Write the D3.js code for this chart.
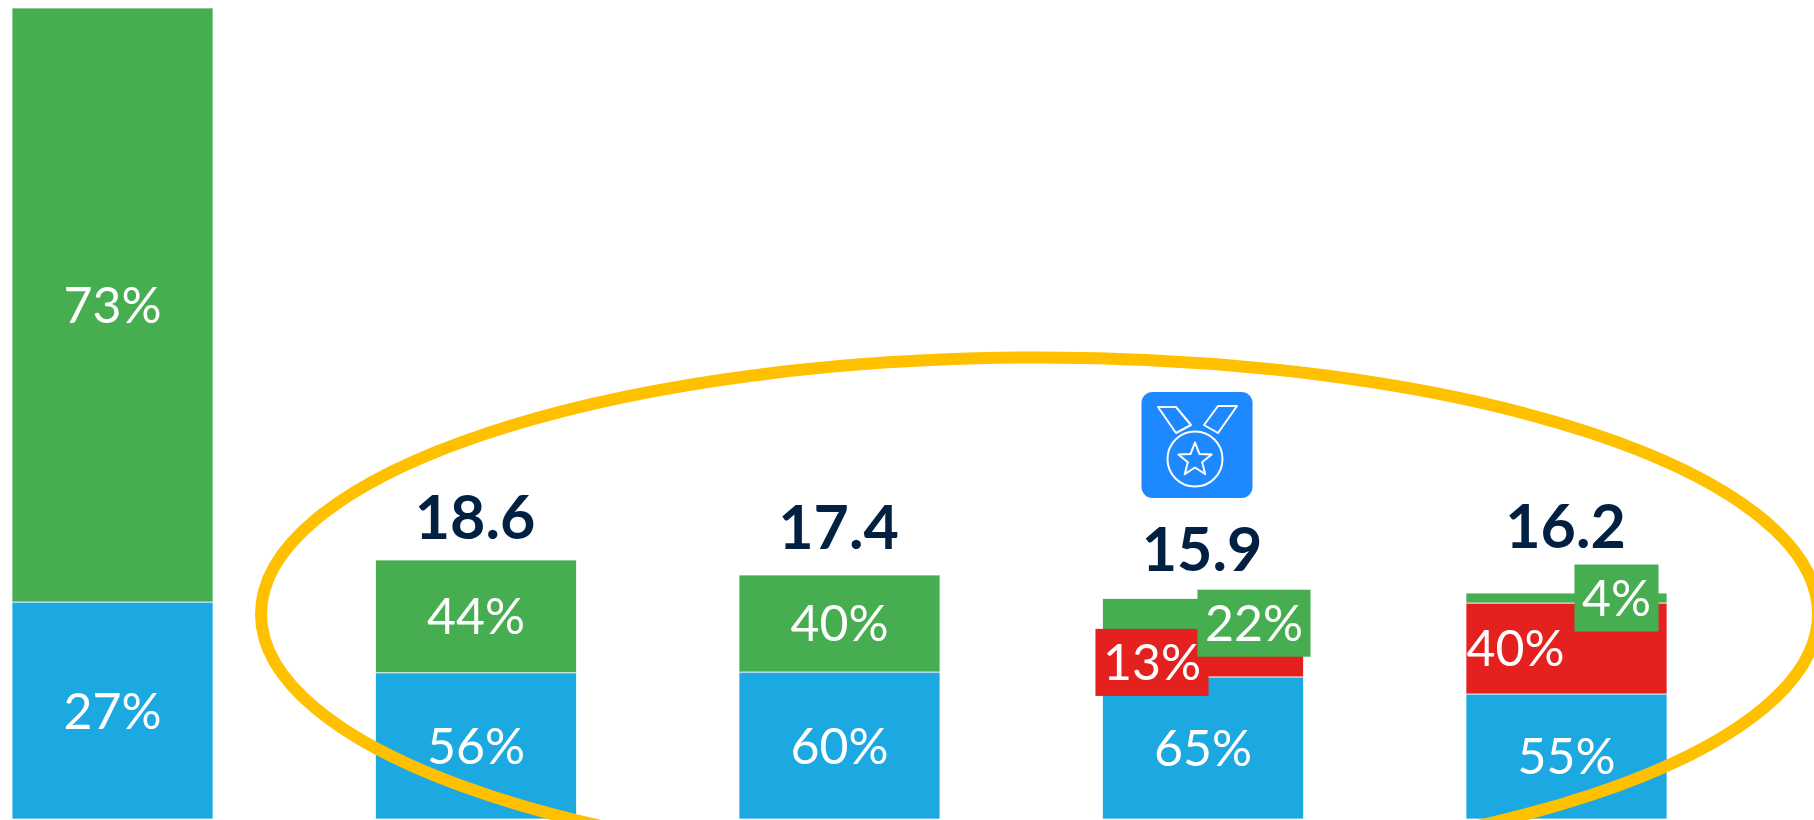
<!DOCTYPE html>
<html>
<head>
<meta charset="utf-8">
<script src="https://cdn.jsdelivr.net/npm/d3@7"></script>
<style>
  html, body { margin: 0; padding: 0; background: #fff; overflow: hidden; }
  svg { display: block; font-family: Lato, "Open Sans", sans-serif; }
</style>
</head>
<body>
<div id="chart"></div>
<script>
// Values (segment heights, share labels, bar totals)
const categories = ["Bar 1", "Bar 2", "Bar 3", "Bar 4", "Bar 5"];
const blueValues = [15.5, 10.45, 10.5, 10.15, 8.93];
const redValues = [0, 0, 0, 2.07, 6.5];
const greenValues = [42.43, 8.05, 6.93, 3.53, 0.71];
const blueLabels = ["27%", "56%", "60%", "65%", "55%"];
const redLabels = ["", "", "", "13%", "40%"];
const greenLabels = ["73%", "44%", "40%", "22%", "4%"];
const totalLabels = ["", "18.6", "17.4", "15.9", "16.2"];

const seriesKeys = ["blue", "red", "green"];
const colors = { blue: "#1CA9E2", red: "#E4211F", green: "#47AD51" };
const labels = { blue: blueLabels, red: redLabels, green: greenLabels };

const width = 1814;
const height = 820;
const navy = "#012042";

const rows = categories.map((c, i) => ({
  category: c,
  blue: blueValues[i],
  red: redValues[i],
  green: greenValues[i]
}));

const svg = d3.select("#chart")
  .append("svg")
  .attr("width", width)
  .attr("height", height);

// Scales
const x = d3.scaleBand()
  .domain(categories)
  .range([12, 1667])
  .paddingInner(0.447);

const y = d3.scaleLinear()
  .domain([0, d3.max(rows, d => d.blue + d.red + d.green)])
  .range([819, 8]);

const stacked = d3.stack().keys(seriesKeys)(rows);

// Bars
svg.selectAll(".series")
  .data(stacked)
  .enter()
  .append("g")
  .attr("class", "series")
  .attr("fill", d => colors[d.key])
  .selectAll("rect")
  .data(d => d.filter(s => s[1] > s[0]))
  .enter()
  .append("rect")
  .attr("x", d => x(d.data.category))
  .attr("y", d => y(d[1]))
  .attr("width", x.bandwidth())
  .attr("height", d => y(d[0]) - y(d[1]))
  .attr("stroke", "#fff")
  .attr("stroke-opacity", 0.75)
  .attr("stroke-width", 1);

// Yellow ring round the last four bars, runs off the right edge
svg.append("ellipse")
  .attr("cx", 1039.5)
  .attr("cy", 614)
  .attr("rx", 778.5)
  .attr("ry", 256.5)
  .attr("fill", "none")
  .attr("stroke", "#FFC000")
  .attr("stroke-width", 12);

// Share labels; on the last two bars they sit side by side in small boxes
const sideShift = { "red-Bar 4": -51, "green-Bar 4": 51, "red-Bar 5": -51, "green-Bar 5": 50 };
const boxed = ["red-Bar 4", "green-Bar 4", "green-Bar 5"];

stacked.forEach(layer => {
  layer.forEach((s, i) => {
    const text = labels[layer.key][i];
    if (!text) return;
    const id = layer.key + "-" + s.data.category;
    const cx = x(s.data.category) + x.bandwidth() / 2 + (sideShift[id] || 0);
    const cy = (y(s[0]) + y(s[1])) / 2;
    const g = svg.append("g");
    const box = g.append("rect");
    const label = g.append("text")
      .attr("x", cx)
      .attr("y", cy)
      .attr("dy", "0.36em")
      .attr("text-anchor", "middle")
      .attr("font-size", 50)
      .attr("fill", "#fff")
      .text(text);
    if (boxed.includes(id)) {
      const w = label.node().getComputedTextLength() + 15;
      box.attr("x", cx - w / 2)
        .attr("y", cy - 33.5)
        .attr("width", w)
        .attr("height", 67)
        .attr("fill", colors[layer.key]);
    } else {
      box.remove();
    }
  });
});

// Totals above the bars
const totalLift = [0, 43, 48, 49, 67];
svg.selectAll(".total")
  .data(rows)
  .enter()
  .append("text")
  .attr("class", "total")
  .attr("x", d => x(d.category) + x.bandwidth() / 2 - 1)
  .attr("y", (d, i) => y(d.blue + d.red + d.green) - totalLift[i])
  .attr("dy", "0.36em")
  .attr("text-anchor", "middle")
  .attr("font-size", 61)
  .attr("font-weight", 700)
  .attr("fill", navy)
  .text((d, i) => totalLabels[i]);

// Medal icon over the lowest bar
const icon = svg.append("g")
  .attr("transform", "translate(" + (x("Bar 4") + x.bandwidth() / 2 - 6) + ",445)");

icon.append("rect")
  .attr("x", -55.5)
  .attr("y", -53)
  .attr("width", 111)
  .attr("height", 106)
  .attr("rx", 11)
  .attr("fill", "#1E88FF");

const iconLine = icon.append("g")
  .attr("fill", "none")
  .attr("stroke", "#fff")
  .attr("stroke-width", 2)
  .attr("stroke-linejoin", "round");

iconLine.append("circle").attr("cx", -2).attr("cy", 14).attr("r", 27.5);
iconLine.append("polygon").attr("points", "-39,-38 -21,-38 -6,-20 -21,-12");
iconLine.append("polygon").attr("points", "40,-39 21,-39 7,-20 21,-12");

const starPoints = d3.range(10).map(i => {
  const r = i % 2 === 0 ? 17.5 : 7.5;
  const a = (i * Math.PI) / 5;
  return [-2 + r * Math.sin(a), 15 - r * Math.cos(a)].join(",");
});
iconLine.append("polygon").attr("points", starPoints.join(" "));
</script>
</body>
</html>
